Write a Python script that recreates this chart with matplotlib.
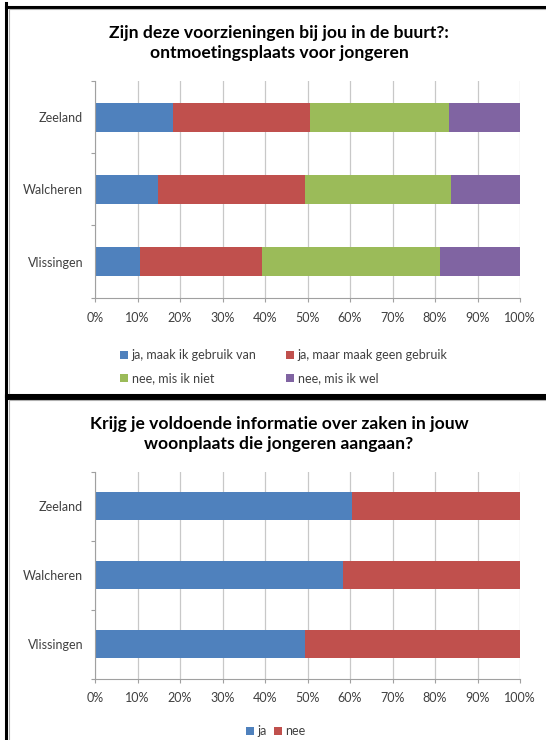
import matplotlib
matplotlib.use("Agg")
import matplotlib.pyplot as plt
from matplotlib.lines import Line2D

plt.rcParams['font.family'] = ['Lato', 'DejaVu Sans']

# Data
regions = ["Zeeland", "Walcheren", "Vlissingen"]

labels_top = ["ja, maak ik gebruik van", "ja, maar maak geen gebruik",
              "nee, mis ik niet", "nee, mis ik wel"]
ja_gebruik = [18.4, 14.9, 10.6]
ja_geen = [32.3, 34.5, 28.8]
nee_niet = [32.7, 34.4, 41.7]
nee_wel = [16.6, 16.2, 18.9]

labels_bottom = ["ja", "nee"]
ja = [60.5, 58.3, 49.4]
nee = [39.5, 41.7, 50.6]

colors = ["#4F81BD", "#C0504D", "#9BBB59", "#8064A2"]
title_top = "Zijn deze voorzieningen bij jou in de buurt?:\nontmoetingsplaats voor jongeren"
title_bottom = "Krijg je voldoende informatie over zaken in jouw\nwoonplaats die jongeren aangaan?"

W, H = 546, 740
fig = plt.figure(figsize=(W / 100, H / 100), dpi=100)


def fx(px):
    return px / W


def fy(py):
    return 1 - py / H


def style_axes(ax):
    ax.set_xlim(0, 100)
    ax.set_ylim(len(regions) - 0.5, -0.5)
    ax.set_xticks(range(0, 101, 10))
    ax.set_xticklabels([f"{v}%" for v in range(0, 101, 10)])
    ax.set_yticks(range(len(regions)))
    ax.set_yticklabels(regions)
    ax.set_yticks([i - 0.5 for i in range(len(regions) + 1)], minor=True)
    ax.tick_params(axis="y", which="major", length=0, pad=8.5, labelsize=9, labelcolor="#404040")
    ax.tick_params(axis="y", which="minor", length=3, color="#A0A0A0", width=0.8)
    ax.tick_params(axis="x", length=3, color="#A0A0A0", width=0.8, pad=7, labelsize=9, labelcolor="#404040")
    ax.grid(axis="x", color="#C8C8C8", linewidth=0.9)
    ax.set_axisbelow(True)
    for s in ["top", "right"]:
        ax.spines[s].set_visible(False)
    for s in ["left", "bottom"]:
        ax.spines[s].set_color("#A0A0A0")
        ax.spines[s].set_linewidth(0.8)


# top chart
ax1 = fig.add_axes([fx(95), fy(297.7), fx(425), 216.7 / H])
series = [ja_gebruik, ja_geen, nee_niet, nee_wel]
left = [0, 0, 0]
bars = []
for vals, c, lab in zip(series, colors, labels_top):
    b = ax1.barh(range(len(regions)), vals, left=left, height=0.4, color=c, label=lab)
    bars.append(b)
    left = [l + v for l, v in zip(left, vals)]
style_axes(ax1)
fig.text(fx(279), fy(43), title_top, ha="center", va="center", fontsize=12.6,
         fontweight="bold", linespacing=1.3)
fig.legend([bars[0], bars[2], bars[1], bars[3]],
           [labels_top[0], labels_top[2], labels_top[1], labels_top[3]],
           ncol=2, frameon=False, loc="upper left",
           bbox_to_anchor=(fx(114), fy(343)), fontsize=9,
           handlelength=0.6, handleheight=0.6, handletextpad=0.3,
           labelspacing=0.9, columnspacing=2.4, borderpad=0,
           labelcolor="#404040")

# bottom chart
ax2 = fig.add_axes([fx(95), fy(678.5), fx(425), 206.8 / H])
b1 = ax2.barh(range(len(regions)), ja, height=0.4, color=colors[0], label=labels_bottom[0])
b2 = ax2.barh(range(len(regions)), nee, left=ja, height=0.4, color=colors[1], label=labels_bottom[1])
style_axes(ax2)
fig.text(fx(279), fy(434), title_bottom, ha="center", va="center", fontsize=12.6,
         fontweight="bold", linespacing=1.3)
fig.legend([b1, b2], labels_bottom, ncol=2, frameon=False, loc="center",
           bbox_to_anchor=(fx(276), fy(731)), fontsize=9,
           handlelength=0.6, handleheight=0.6, handletextpad=0.3,
           columnspacing=0.6, borderpad=0, labelcolor="#404040")

# panel borders
def line(x0, y0, x1, y1, color="black", lw=2.2):
    fig.add_artist(Line2D([fx(x0), fx(x1)], [fy(y0), fy(y1)], color=color,
                          linewidth=lw, transform=fig.transFigure))

line(6, 7, 560, 7)
line(6, 3, 6, 396)
line(6, 395, 560, 395)
line(6, 397.5, 560, 397.5)
line(6, 396, 6, 760)
line(8.5, 9, 560, 9, color="#B0B0B0", lw=0.8)
line(8.5, 399.5, 560, 399.5, color="#B0B0B0", lw=0.8)
line(8.5, 9, 8.5, 393, color="#B0B0B0", lw=0.8)
line(8.5, 399.5, 8.5, 760, color="#B0B0B0", lw=0.8)

fig.savefig("out.png", dpi=100)
